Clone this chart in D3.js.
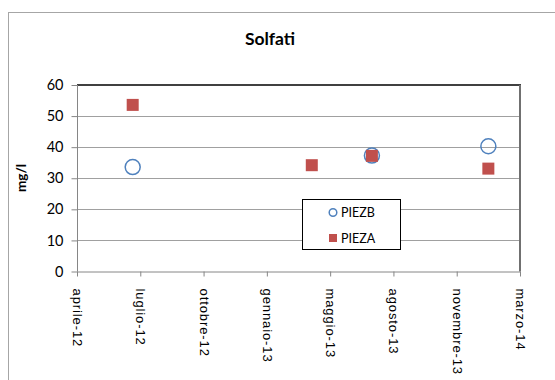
<!DOCTYPE html>
<html><head><meta charset="utf-8">
<script src="https://cdn.jsdelivr.net/npm/d3@7/dist/d3.min.js"></script>
<style>body{margin:0;background:#fff}svg{display:block}</style>
</head><body>
<svg id="c" width="555" height="380"></svg>
<script>
// ---- data ----
const sampleDates = ["2012-06-28", "2013-04-07", "2013-07-11", "2014-01-11"];
const piezbValues = [33.6, null, 37.3, 40.3];
const piezaValues = [53.6, 34.2, 37.2, 33.1];
const seriesNames = ["PIEZB", "PIEZA"];
const xAxisStart = "2012-04-01";
const xAxisEnd = "2014-03-02";
const xTickStepDays = 100;
const xTickLabels = ["aprile-12", "luglio-12", "ottobre-12", "gennaio-13", "maggio-13", "agosto-13", "novembre-13", "marzo-14"];
const yTicks = [0, 10, 20, 30, 40, 50, 60];
const title = "Solfati";
const yLabel = "mg/l";

// ---- layout ----
const svg = d3.select("#c");
const L = 77, R = 520, T = 85, B = 271.5;
const parse = d3.utcParse("%Y-%m-%d");
const x = d3.scaleUtc().domain([parse(xAxisStart), parse(xAxisEnd)]).range([L, R]);
const y = d3.scaleLinear().domain([0, 60]).range([B, T]);
const tickDates = xTickLabels.map((_, i) => d3.utcDay.offset(parse(xAxisStart), i * xTickStepDays));

// outer chart border
svg.append("rect").attr("x", 8.5).attr("y", 12.5).attr("width", 600).attr("height", 400)
  .attr("fill", "#fff").attr("stroke", "#a6a6a6").attr("stroke-width", 1);

// title
svg.append("text").attr("x", 270).attr("y", 45).attr("text-anchor", "middle")
  .attr("font-family", "Lato, 'Open Sans', sans-serif").attr("font-weight", "bold")
  .attr("font-size", 17.5).attr("fill", "#000").text(title);

// gridlines
svg.append("g").selectAll("line").data(yTicks.filter(v => v > 0 && v < 60)).join("line")
  .attr("x1", L).attr("x2", R).attr("y1", d => Math.round(y(d)) + 0.5).attr("y2", d => Math.round(y(d)) + 0.5)
  .attr("stroke", "#a0a0a0").attr("stroke-width", 1);

// plot area border
svg.append("line").attr("x1", L).attr("x2", R + 1).attr("y1", T).attr("y2", T).attr("stroke", "#404040").attr("stroke-width", 2);
svg.append("line").attr("x1", R).attr("x2", R).attr("y1", T).attr("y2", B).attr("stroke", "#707070").attr("stroke-width", 2);

// y axis
const yAxis = d3.axisLeft(y).tickValues(yTicks).tickSize(6).tickPadding(8);
const gy = svg.append("g").attr("transform", `translate(${L + 0.5},0)`).call(yAxis);
gy.select(".domain").attr("stroke", "#868686").attr("d", `M0,${T}V${B}`);
gy.selectAll(".tick line").attr("stroke", "#868686");
gy.selectAll(".tick text").attr("font-family", "Lato, 'Open Sans', sans-serif").attr("font-size", 14.5).attr("fill", "#000");

// x axis
const xAxis = d3.axisBottom(x).tickValues(tickDates).tickFormat((d, i) => xTickLabels[i]).tickSize(5).tickSizeOuter(0);
const gx = svg.append("g").attr("transform", `translate(0,${B})`).call(xAxis);
gx.select(".domain").attr("stroke", "#868686");
gx.selectAll(".tick line").attr("stroke", "#868686");
gx.selectAll(".tick text")
  .attr("font-family", "'Liberation Sans', Arial, sans-serif").attr("font-size", 13).attr("fill", "#000")
  .attr("letter-spacing", 0.9)
  .attr("transform", "rotate(90)").attr("text-anchor", "start")
  .attr("x", 17).attr("y", 0).attr("dy", "0.35em");

// y label
svg.append("text").attr("transform", "translate(26,178) rotate(-90)").attr("text-anchor", "middle")
  .attr("font-family", "Lato, 'Open Sans', sans-serif").attr("font-weight", "bold").attr("font-size", 13.5)
  .attr("fill", "#000").text(yLabel);

// points
const bData = sampleDates.map((d, i) => ({ date: parse(d), v: piezbValues[i] })).filter(d => d.v != null);
const aData = sampleDates.map((d, i) => ({ date: parse(d), v: piezaValues[i] })).filter(d => d.v != null);
svg.append("g").selectAll("circle").data(bData).join("circle")
  .attr("cx", d => x(d.date)).attr("cy", d => y(d.v)).attr("r", 7.5)
  .attr("fill", "none").attr("stroke", "#4f81bd").attr("stroke-width", 1.5);
const sq = 12;
svg.append("g").selectAll("rect").data(aData).join("rect")
  .attr("x", d => x(d.date) - sq / 2).attr("y", d => y(d.v) - sq / 2).attr("width", sq).attr("height", sq)
  .attr("fill", "#c0504d");

// legend
const lg = svg.append("g");
lg.append("rect").attr("x", 302.5).attr("y", 199.5).attr("width", 98).attr("height", 50)
  .attr("fill", "#fff").attr("stroke", "#000").attr("stroke-width", 1);
lg.append("circle").attr("cx", 333).attr("cy", 212.5).attr("r", 3.8).attr("fill", "none").attr("stroke", "#4f81bd").attr("stroke-width", 1.5);
lg.append("rect").attr("x", 329).attr("y", 234).attr("width", 8).attr("height", 8).attr("fill", "#c0504d");
lg.selectAll("text").data(seriesNames).join("text")
  .attr("x", 341).attr("y", (d, i) => 217 + i * 25.5)
  .attr("font-family", "Lato, 'Open Sans', sans-serif").attr("font-size", 12.5).attr("fill", "#000").text(d => d);
</script>
</body></html>
